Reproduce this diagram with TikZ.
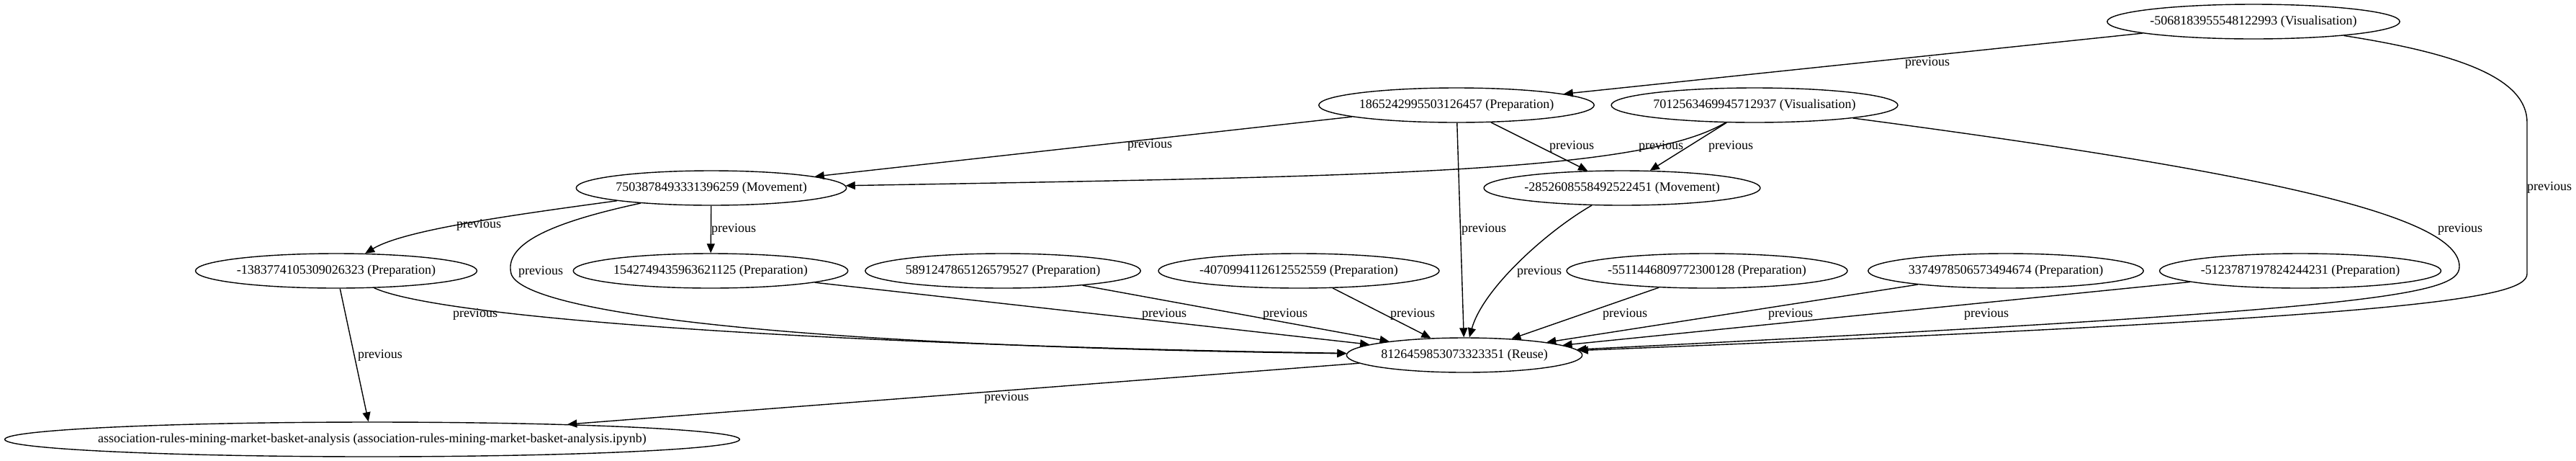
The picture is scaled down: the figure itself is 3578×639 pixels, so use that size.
\documentclass[tikz,border=0pt]{standalone}
\usepackage{fontspec}
\setmainfont{Liberation Serif}
\usetikzlibrary{shapes,arrows.meta}

\tikzset{
  job/.style={draw, ellipse, line width=0.7pt, inner xsep=0pt, inner ysep=0pt, minimum height=24pt, font=\fontsize{9}{10}\selectfont},
  lbl/.style={inner sep=0pt, font=\fontsize{9}{10}\selectfont},
  link/.style={-{Triangle[length=6.5pt,width=5.5pt]}, line width=0.7pt}
}

\begin{document}
\begin{tikzpicture}[x=0.5pt, y=-0.5pt]
            \useasboundingbox (0,0) rectangle (3578,639);
            \draw (3130,30) node[job] (v5068) {-5068183955548122993 (Visualisation)};
            \draw (2023,146) node[job] (p1865) {1865242995503126457 (Preparation)};
            \draw (2437,146) node[job] (v7012) {7012563469945712937 (Visualisation)};
            \draw (988,261) node[job] (m7503) {7503878493331396259 (Movement)};
            \draw (2253,261) node[job] (m2852) {-2852608558492522451 (Movement)};
            \draw (467,376) node[job] (p1383) {-1383774105309026323 (Preparation)};
            \draw (987,376) node[job] (p1542) {1542749435963621125 (Preparation)};
            \draw (1393,376) node[job] (p5891) {5891247865126579527 (Preparation)};
            \draw (1804,376) node[job] (p4070) {-4070994112612552559 (Preparation)};
            \draw (2371,376) node[job] (p5511) {-5511446809772300128 (Preparation)};
            \draw (2786,376) node[job] (p3374) {3374978506573494674 (Preparation)};
            \draw (3195,376) node[job] (p5123) {-5123787197824244231 (Preparation)};
            \draw (2034,493) node[job] (r8126) {8126459853073323351 (Reuse)};
            \draw (517,610) node[job, inner xsep=-10pt] (nb) {association-rules-mining-market-basket-analysis (association-rules-mining-market-basket-analysis.ipynb)};
            \path[link] (v5068) edge (p1865)
                        (p1865) edge (m7503)
                        (p1865) edge (m2852)
                        (p1865) edge (r8126)
                        (v7012) edge (m2852)
                        (m7503) edge (p1542)
                        (p1383) edge (nb)
                        (p1542) edge (r8126)
                        (p5891) edge (r8126)
                        (p4070) edge (r8126)
                        (p5511) edge (r8126)
                        (p3374) edge (r8126)
                        (p5123) edge (r8126)
                        (r8126) edge (nb);
            \draw[link] (v7012) .. controls (2280,240) and (1900,245) .. (m7503);
            \draw[link] (v7012) .. controls (3150,240) and (3416,300) .. (3416,370) .. controls (3416,410) and (3300,430) .. (r8126);
            \draw[link] (v5068) .. controls (3420,75) and (3510,110) .. (3510,170) -- (3510,380) .. controls (3510,415) and (3350,440) .. (r8126);
            \draw[link] (m2852) .. controls (2150,320) and (2060,400) .. (r8126);
            \draw[link] (m7503) .. controls (700,300) and (560,320) .. (p1383);
            \draw[link] (m7503) .. controls (760,310) and (700,340) .. (710,380) .. controls (725,430) and (1050,480) .. (r8126);
            \draw[link] (p1383) .. controls (620,445) and (1200,480) .. (r8126);
            \draw (2677,87) node[lbl] (l1) {previous};
            \draw (3541,260) node[lbl] (l2) {previous};
            \draw (1597,201) node[lbl] (l3) {previous};
            \draw (2183,203) node[lbl] (l4) {previous};
            \draw (2307,203) node[lbl] (l5) {previous};
            \draw (2404,203) node[lbl] (l6) {previous};
            \draw (2061,318) node[lbl] (l7) {previous};
            \draw (3417,318) node[lbl] (l8) {previous};
            \draw (665,312) node[lbl] (l9) {previous};
            \draw (1019,318) node[lbl] (l10) {previous};
            \draw (751,377) node[lbl] (l11) {previous};
            \draw (2138,377) node[lbl] (l12) {previous};
            \draw (660,436) node[lbl] (l13) {previous};
            \draw (528,493) node[lbl] (l14) {previous};
            \draw (1617,436) node[lbl] (l15) {previous};
            \draw (1785,436) node[lbl] (l16) {previous};
            \draw (1962,436) node[lbl] (l17) {previous};
            \draw (2257,436) node[lbl] (l18) {previous};
            \draw (2487,436) node[lbl] (l19) {previous};
            \draw (2759,436) node[lbl] (l20) {previous};
            \draw (1398,552) node[lbl] (l21) {previous};
        \end{tikzpicture}
\end{document}
